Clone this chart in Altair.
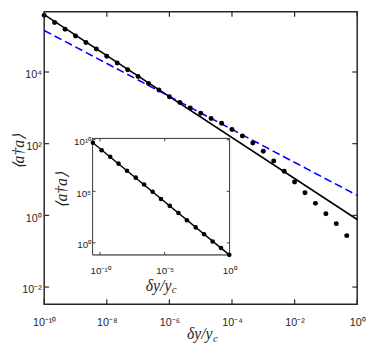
import altair as alt
import pandas as pd

# ---------------- data ----------------
# main panel: dots
dot_x = [1e-10, 2.154e-10, 4.642e-10, 1e-9, 2.154e-9, 4.642e-9, 1e-8, 2.154e-8, 4.642e-8,
         1e-7, 2.154e-7, 4.642e-7, 1e-6, 2.154e-6, 4.642e-6, 1e-5, 2.154e-5, 4.642e-5,
         1e-4, 2.154e-4, 4.642e-4, 1e-3, 2.154e-3, 4.642e-3, 1e-2, 2.154e-2, 4.642e-2,
         1e-1, 2.154e-1, 4.642e-1]
dot_y = [3.80e5, 2.40e5, 1.56e5, 1.01e5, 6.70e4, 4.35e4, 2.75e4, 1.78e4, 1.15e4,
         7.48e3, 4.76e3, 3.14e3, 2.04e3, 1.41e3, 993, 711, 502, 369,
         248, 165, 104, 61.1, 32.9, 16.9, 8.59, 4.27, 2.16,
         1.11, 0.588, 0.272]

# main panel: black solid fit and blue dashed fit
fit_x = [1e-10, 1.0]
fit_y = [3.98e5, 0.766]
dash_x = [1e-10, 1.0]
dash_y = [1.44e5, 3.61]

# inset: dots and line
inset_x = [2.75e-11, 1.32e-10, 6.03e-10, 2.69e-9, 1.20e-8, 5.75e-8, 2.57e-7, 1.17e-6,
           5.13e-6, 2.45e-5, 1.17e-4, 5.25e-4, 2.51e-3, 1.12e-2, 5.13e-2, 0.229, 1.0]
inset_y = [5.13e9, 9.55e8, 2.24e8, 4.79e7, 9.77e6, 2.09e6, 4.57e5, 8.91e4,
           1.82e4, 3.89e3, 794, 158, 31.6, 6.92, 1.38, 0.324, 0.0692]
inset_fit_x = [2.75e-11, 1.0]
inset_fit_y = [5.13e9, 0.0692]

# ticks and labels
x_ticks = [1e-10, 1e-8, 1e-6, 1e-4, 1e-2, 1.0]
x_tick_labels = ["10⁻¹⁰", "10⁻⁸", "10⁻⁶", "10⁻⁴", "10⁻²", "10⁰"]
y_ticks = [1e-2, 1.0, 1e2, 1e4]
y_tick_labels = ["10⁻²", "10⁰", "10²", "10⁴"]
ix_ticks = [1e-10, 1e-5, 1.0]
ix_tick_labels = ["10⁻¹⁰", "10⁻⁵", "10⁰"]
iy_ticks = [1.0, 1e5, 1e10]
iy_tick_labels = ["10⁰", "10⁵", "10¹⁰"]

x_title = "δy/y"
x_title_sub = "c"
y_title = "⟨a†a⟩"

# ---------------- layout ----------------
W, H = 320, 299
AX = "#262626"
TICKFONT = "Liberation Sans"
TITLEFONT = "Liberation Serif"


def label_expr(vals, labels):
    expr = f"'{labels[-1]}'"
    for v, l in reversed(list(zip(vals[:-1], labels[:-1]))):
        expr = f"datum.value < {v * 1.5} ? '{l}' : " + expr
    return expr


mx_scale = alt.Scale(type="log", domain=[1e-10, 1.0], nice=False)
my_scale = alt.Scale(type="log", domain=[10 ** -2.48, 10 ** 5.68], nice=False)
mx_axis = alt.Axis(orient="bottom", values=x_ticks, labelExpr=label_expr(x_ticks, x_tick_labels),
                   title=None, domain=False, ticks=False, tickSize=0, grid=False,
                   labelFont=TICKFONT, labelFontSize=11, labelColor=AX, labelPadding=13,
                   labelFlush=False, labelOverlap=False)
my_axis = alt.Axis(orient="left", values=y_ticks, labelExpr=label_expr(y_ticks, y_tick_labels),
                   title=None, domain=False, ticks=False, tickSize=0, grid=False,
                   labelFont=TICKFONT, labelFontSize=11, labelColor=AX, labelPadding=3,
                   labelOffset=3, labelFlush=False, labelOverlap=False)


def MX(f="x"):
    return alt.X(f"{f}:Q", scale=mx_scale, axis=mx_axis)


def MY(f="y"):
    return alt.Y(f"{f}:Q", scale=my_scale, axis=my_axis)


main_dots_df = pd.DataFrame({"x": dot_x, "y": dot_y})
fit_df = pd.DataFrame({"x": fit_x, "y": fit_y})
dash_df = pd.DataFrame({"x": dash_x, "y": dash_y})
xt_df = pd.DataFrame({"x": x_ticks})
yt_df = pd.DataFrame({"y": y_ticks})

main_fit = alt.Chart(fit_df).mark_line(color="black", strokeWidth=1.6).encode(x=MX(), y=MY())
main_dash = alt.Chart(dash_df).mark_line(color="#0000ff", strokeWidth=1.6, strokeDash=[8, 4]).encode(x=MX(), y=MY())
main_dots = alt.Chart(main_dots_df).mark_circle(color="black", size=26, opacity=1).encode(x=MX(), y=MY())
xt_bottom = alt.Chart(xt_df).mark_rule(color=AX, strokeWidth=1.2).encode(x=MX(), y=alt.value(H), y2=alt.value(H - 5))
xt_top = alt.Chart(xt_df).mark_rule(color=AX, strokeWidth=1.2).encode(x=MX(), y=alt.value(0), y2=alt.value(5))
yt_left = alt.Chart(yt_df).mark_rule(color=AX, strokeWidth=1.2).encode(y=MY(), x=alt.value(0), x2=alt.value(5))
yt_right = alt.Chart(yt_df).mark_rule(color=AX, strokeWidth=1.2).encode(y=MY(), x=alt.value(W), x2=alt.value(W - 5))

main = alt.layer(main_fit, main_dash, main_dots, xt_bottom, xt_top, yt_left, yt_right)

# ---------------- inset ----------------
IL, IR, IT, IB = 49.5, 189.5, 129.5, 248.5
ix_scale = alt.Scale(type="log", domain=[10 ** -10.58, 10 ** 0.02], range=[IL, IR], nice=False)
iy_scale = alt.Scale(type="log", domain=[10 ** -1.16, 10 ** 10.12], range=[IB, IT], nice=False)
ix_axis = alt.Axis(orient="bottom", offset=-(H - IB), values=ix_ticks,
                   labelExpr=label_expr(ix_ticks, ix_tick_labels), title=None, domain=False,
                   ticks=False, tickSize=0, grid=False, labelFont=TICKFONT, labelFontSize=10,
                   labelColor=AX, labelPadding=11, labelFlush=False, labelOverlap=False)
iy_axis = alt.Axis(orient="left", offset=-IL, values=iy_ticks,
                   labelExpr=label_expr(iy_ticks, iy_tick_labels), title=None, domain=False,
                   ticks=False, tickSize=0, grid=False, labelFont=TICKFONT, labelFontSize=10,
                   labelColor=AX, labelPadding=2, labelOffset=2, labelFlush=False, labelOverlap=False)


def IX(f="x"):
    return alt.X(f"{f}:Q", scale=ix_scale, axis=ix_axis)


def IY(f="y"):
    return alt.Y(f"{f}:Q", scale=iy_scale, axis=iy_axis)


inset_dots_df = pd.DataFrame({"x": inset_x, "y": inset_y})
inset_fit_df = pd.DataFrame({"x": inset_fit_x, "y": inset_fit_y})
ixt_df = pd.DataFrame({"x": ix_ticks})
iyt_df = pd.DataFrame({"y": iy_ticks})

frame = alt.Chart(inset_fit_df).mark_rect(fill="white", stroke="#404040", strokeWidth=1).encode(
    x=alt.value(IL), x2=alt.value(IR), y=alt.value(IT), y2=alt.value(IB))
inset_fit = alt.Chart(inset_fit_df).mark_line(color="black", strokeWidth=1.4).encode(x=IX(), y=IY())
inset_dots = alt.Chart(inset_dots_df).mark_circle(color="black", size=22, opacity=1).encode(x=IX(), y=IY())
ixt_b = alt.Chart(ixt_df).mark_rule(color="#404040", strokeWidth=1).encode(x=IX(), y=alt.value(IB), y2=alt.value(IB - 3))
ixt_t = alt.Chart(ixt_df).mark_rule(color="#404040", strokeWidth=1).encode(x=IX(), y=alt.value(IT), y2=alt.value(IT + 3))
iyt_l = alt.Chart(iyt_df).mark_rule(color="#404040", strokeWidth=1).encode(y=IY(), x=alt.value(IL), x2=alt.value(IL + 3))
iyt_r = alt.Chart(iyt_df).mark_rule(color="#404040", strokeWidth=1).encode(y=IY(), x=alt.value(IR), x2=alt.value(IR - 3))

inset = alt.layer(frame, ixt_b, ixt_t, iyt_l, iyt_r, inset_fit, inset_dots)

# ---------------- titles ----------------
tdf = pd.DataFrame({"t": [x_title]})


def txt(text, x, y, size=16, align="left", baseline="alphabetic", angle=0):
    return alt.Chart(tdf).mark_text(text=text, font=TITLEFONT, fontStyle="italic", fontSize=size,
                                    align=align, baseline=baseline, angle=angle, color=AX).encode(
        x=alt.value(x), y=alt.value(y))


titles = alt.layer(
    txt(x_title, 172, 335, align="right"),
    txt(x_title_sub, 172.5, 338, size=11),
    txt(y_title, -26, 143, align="center", baseline="middle", angle=270),
    txt(x_title, 130, 285, align="right"),
    txt(x_title_sub, 130.5, 288, size=11),
    txt(y_title, 18, 182, align="center", baseline="middle", angle=270),
)

chart = alt.layer(main, inset, titles).resolve_scale(x="independent", y="independent").properties(
    width=W, height=H, padding={"left": 37, "top": 0, "right": 9, "bottom": 47},
    autosize=alt.AutoSizeParams(type="none"),
).configure_view(stroke=AX, strokeWidth=1.5)

chart.save("out.html", embed_options={"renderer": "svg", "actions": False})
